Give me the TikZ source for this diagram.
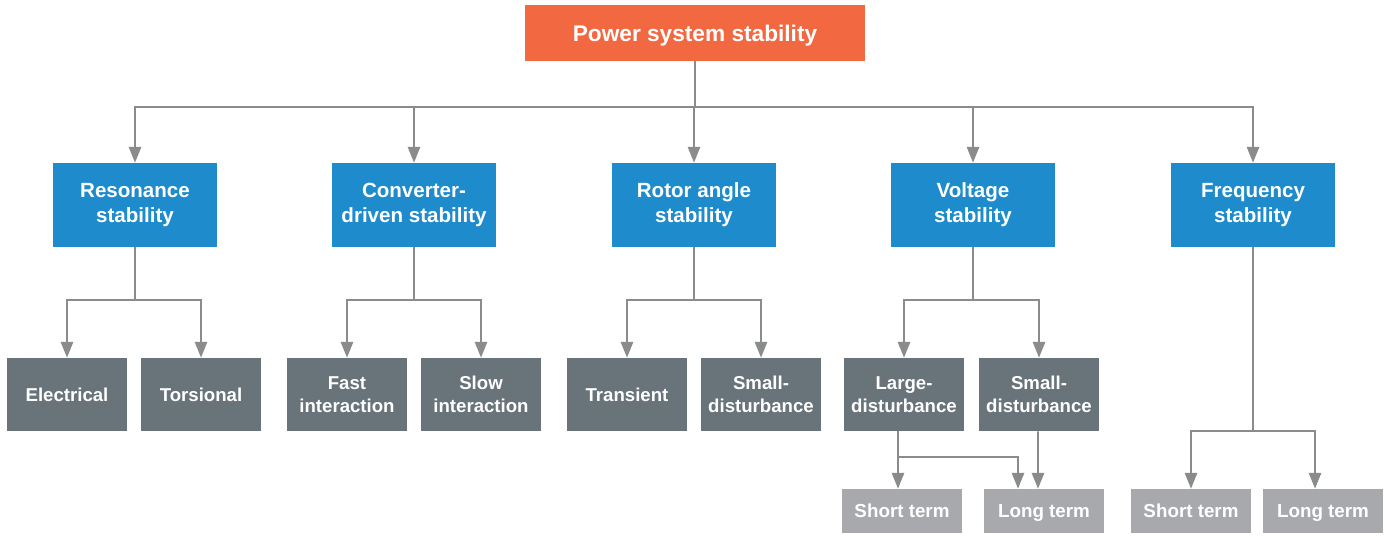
\documentclass[tikz,border=0pt]{standalone}
\usepackage{fontspec}
\setmainfont{Liberation Sans}
\usetikzlibrary{arrows.meta,positioning}

\definecolor{rootcol}{HTML}{F26841}
\definecolor{kindcol}{HTML}{1E8BCD}
\definecolor{subcol}{HTML}{69737A}
\definecolor{termcol}{HTML}{A7A9AC}
\definecolor{linecol}{HTML}{898B8D}

\tikzset{
  box/.style={text=white, align=center, inner sep=0pt},
  rootbox/.style={box, fill=rootcol, minimum width=6.8cm, minimum height=1.12cm,
    text height=10.2pt, text depth=0pt,
    font=\bfseries\fontsize{12.9}{15}\selectfont},
  kindbox/.style={box, fill=kindcol, minimum width=3.28cm, minimum height=1.68cm,
    font=\bfseries\fontsize{11.7}{14.2}\selectfont},
  subbox/.style={box, fill=subcol, minimum width=2.4cm, minimum height=1.46cm,
    font=\bfseries\fontsize{10.6}{13}\selectfont},
  termbox/.style={box, fill=termcol, minimum width=2.4cm, minimum height=0.88cm,
    text height=7.7pt, text depth=0pt,
    font=\bfseries\fontsize{10.7}{13}\selectfont},
  link/.style={draw=linecol, line width=1.1pt, -{Triangle[length=9pt,width=7pt]}}
}

\begin{document}
\begin{tikzpicture}[x=0.02cm, y=-0.02cm]

\useasboundingbox (0,0) rectangle (1385,535);

% root
\node[rootbox] (root) at (695,33) {Power system stability};

% the five kinds of stability
\foreach \name/\x/\txt in {res/135/{Resonance\\stability},
                          conv/414/{Converter-\\driven stability},
                          rotor/694/{Rotor angle\\stability},
                          volt/973/{Voltage\\stability},
                          freq/1253/{Frequency\\stability}} {
    \node[kindbox] (\name) at (\x,205) {\txt};
    \draw[link] (root.south) -- ++(0,-0.92cm) -| (\name.north);
}

% second level boxes
\foreach \name/\x/\txt in {elec/67/Electrical, tors/201/Torsional,
                          fast/347/{Fast\\interaction}, slow/481/{Slow\\interaction},
                          trans/627/Transient, rsmall/761/{Small-\\disturbance},
                          large/904/{Large-\\disturbance}, vsmall/1039/{Small-\\disturbance}} {
    \node[subbox] (\name) at (\x,394.5) {\txt};
}

% branches from the kinds
\foreach \p/\a/\b in {res/elec/tors, conv/fast/slow, rotor/trans/rsmall, volt/large/vsmall} {
    \draw[link] (\p.south) -- ++(0,-1.06cm) -| (\a.north);
    \draw[link] (\p.south) -- ++(0,-1.06cm) -| (\b.north);
}

% short and long term
\node[termbox] (vshort) at (902,511) {Short term};
\node[termbox] (vlong)  at (1044,511) {Long term};
\node[termbox] (fshort) at (1191,511) {Short term};
\node[termbox] (flong)  at (1323,511) {Long term};

\draw[link] ([xshift=-0.12cm]large.south) -- ([xshift=-0.08cm]vshort.north);
\draw[link] ([xshift=-0.12cm]large.south) -- ++(0,-0.52cm) -| ([xshift=-0.52cm]vlong.north);
\draw[link] ([xshift=-0.02cm]vsmall.south) -- ([xshift=-0.12cm]vlong.north);

\draw[link] (freq.south) -- ++(0,-3.68cm) -| (fshort.north);
\draw[link] (freq.south) -- ++(0,-3.68cm) -| ([xshift=-0.16cm]flong.north);

\end{tikzpicture}
\end{document}
